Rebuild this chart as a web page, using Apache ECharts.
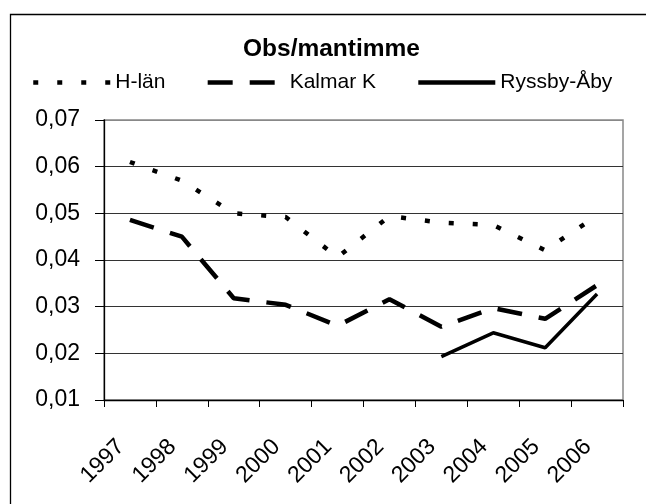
<!DOCTYPE html>
<html>
<head>
<meta charset="utf-8">
<script src="https://cdn.jsdelivr.net/npm/echarts@6/dist/echarts.min.js"></script>
<style>
    html, body { margin: 0; padding: 0; background: #fff; }
    #chart { width: 646px; height: 504px; }
</style>
</head>
<body>
<div id="chart"></div>
<script>
var years = ['1997', '1998', '1999', '2000', '2001', '2002', '2003', '2004', '2005', '2006'];
var hLan = [0.061, 0.057, 0.050, 0.0492, 0.0406, 0.0494, 0.048, 0.0475, 0.0421, 0.0495];
var kalmarK = [0.0486, 0.045, 0.0318, 0.0304, 0.0259, 0.0316, 0.0257, 0.0297, 0.0274, 0.0346];
var ryssbyAby = [null, null, null, null, null, null, 0.0193, 0.0244, 0.0212, 0.0327];

var chart = echarts.init(document.getElementById('chart'));

chart.setOption({
    animation: false,
    textStyle: { fontFamily: 'Liberation Sans, Arial, sans-serif', color: '#000' },
    title: {
        text: 'Obs/mantimme',
        left: 243,
        top: 37,
        padding: 0,
        textStyle: { fontSize: 24.5, fontWeight: 'bold', color: '#000' }
    },
    legend: {
        top: 72,
        left: 31,
        padding: 0,
        itemWidth: 77,
        itemHeight: 14,
        itemGap: 40,
        itemStyle: { opacity: 0 },
        lineStyle: { width: 4.5 },
        textStyle: { fontSize: 21, color: '#000' },
        data: ['H-län', 'Kalmar K', 'Ryssby-Åby']
    },
    // chart frame, cut off on the right and bottom like the original
    graphic: [{
        type: 'rect',
        shape: { x: 10.5, y: 14.5, width: 700, height: 600 },
        style: { fill: 'none', stroke: '#000', lineWidth: 1.3 },
        silent: true
    }],
    grid: {
        left: 104,
        right: 23,
        top: 120,
        bottom: 104,
        show: true,
        borderColor: '#888',
        borderWidth: 1.5
    },
    xAxis: {
        type: 'category',
        data: years,
        boundaryGap: true,
        axisLine: { lineStyle: { color: '#000', width: 1.3 } },
        axisTick: { show: true, length: 7, interval: 0, lineStyle: { color: '#000' } },
        axisLabel: {
            rotate: 45,
            fontSize: 23,
            color: '#000',
            margin: 34,
            padding: [0, 13, 0, 0],
            interval: 0
        }
    },
    yAxis: {
        type: 'value',
        min: 0.01,
        max: 0.07,
        interval: 0.01,
        axisLine: { show: true, lineStyle: { color: '#000', width: 1.3 } },
        axisTick: { show: true, length: 9, lineStyle: { color: '#000' } },
        axisLabel: {
            fontSize: 23,
            color: '#000',
            margin: 24,
            formatter: function (v) { return v.toFixed(2).replace('.', ','); }
        },
        splitLine: {
            show: true,
            lineStyle: { color: ['#000', '#333', '#333', '#333', '#333', '#333', '#888'], width: 1.2 }
        }
    },
    series: [{
        name: 'H-län',
        type: 'line',
        data: hLan,
        symbol: 'none',
        lineStyle: { color: '#000', width: 4.5, type: [5, 19], cap: 'butt' },
        itemStyle: { color: '#000' }
    }, {
        name: 'Kalmar K',
        type: 'line',
        data: kalmarK,
        symbol: 'none',
        lineStyle: { color: '#000', width: 4.5, type: [25, 17], cap: 'butt' },
        itemStyle: { color: '#000' }
    }, {
        name: 'Ryssby-Åby',
        type: 'line',
        data: ryssbyAby,
        symbol: 'none',
        lineStyle: { color: '#000', width: 3.5 },
        itemStyle: { color: '#000' }
    }]
});
</script>
</body>
</html>
